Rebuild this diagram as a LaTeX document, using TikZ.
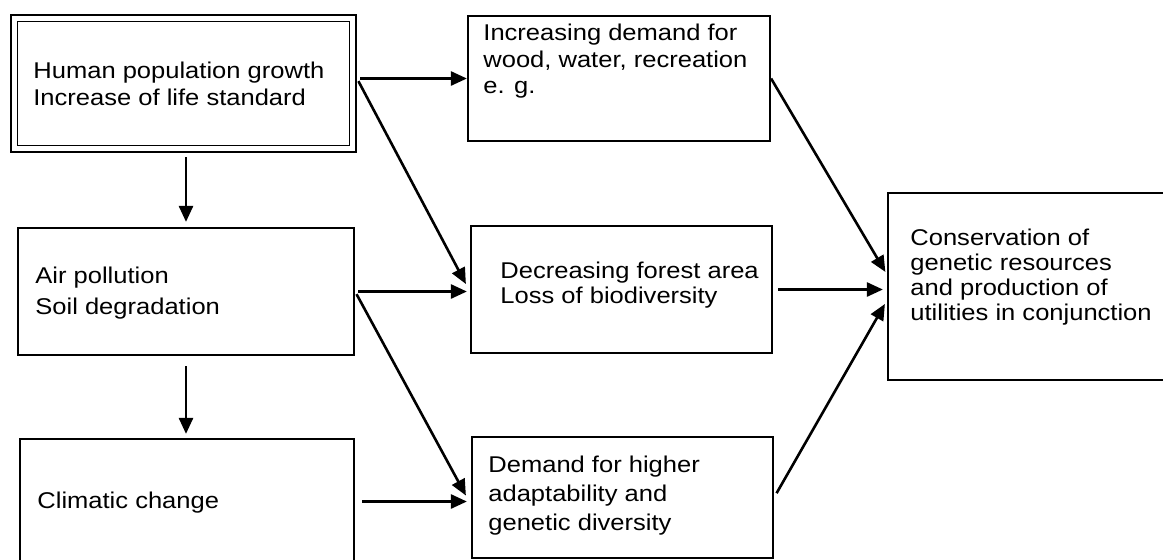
\documentclass[tikz,border=0pt]{standalone}
\usepackage{fontspec}
\setmainfont{Liberation Sans}[FakeStretch=1.12]
\usetikzlibrary{arrows.meta}

\tikzset{
  box/.style={draw, rectangle, line width=1.1pt, inner sep=0pt},
  lbl/.style={anchor=north west, inner sep=0pt, align=left, font=\fontsize{11.4}{#1}\selectfont},
  lbl/.default=13pt,
  arr/.style={-{Triangle[length=8pt, width=7pt]}, line width=1.3pt},
}

\begin{document}
\begin{tikzpicture}[x=0.5pt, y=-0.5pt]
		\useasboundingbox (0,0) rectangle (1163,559);

		% --- Boxes, left column ---
		\node[box, double, double distance=2.4pt, line width=0.9pt, outer sep=2.1pt,
		      minimum width=169.3pt, minimum height=65.3pt] (pop) at (183.5,83.5) {};
		\node[box, minimum width=168pt, minimum height=63.5pt] (air) at (186,291.5) {};
		\node[box, minimum width=167pt, minimum height=62.5pt] (clim) at (187,501.5) {};

		% --- Boxes, middle column ---
		\node[box, minimum width=151pt, minimum height=62.5pt] (dem) at (619,78.5) {};
		\node[box, minimum width=150.5pt, minimum height=63.5pt] (forest) at (621.5,289.5) {};
		\node[box, minimum width=150.5pt, minimum height=60.5pt] (adapt) at (622.5,497.5) {};

		% --- Box, right ---
		\node[box, minimum width=146pt, minimum height=93.5pt] (cons) at (1034,286.5) {};

		% --- Box texts ---
		\node[lbl=13.5pt] (pop txt) at (33,62) {Human population growth\\Increase of life standard};
		\node[lbl=15.5pt] (air txt) at (35,267) {Air pollution\\Soil degradation};
		\node[lbl] (clim txt) at (37,492) {Climatic change};
		\node[lbl=13.25pt] (dem txt) at (483,24) {Increasing demand for\\wood, water, recreation\\e. g.};
		\node[lbl=12.5pt] (forest txt) at (500,262) {Decreasing forest area\\Loss of biodiversity};
		\node[lbl=14.5pt] (adapt txt) at (488,456) {Demand for higher\\adaptability and\\genetic diversity};
		\node[lbl=12.5pt] (cons txt) at (910,229) {Conservation of\\genetic resources\\and production of\\utilities in conjunction};

		% --- Arrows down the left column ---
		\draw[arr, shorten <=2pt, shorten >=2.5pt] (pop.south -| air.north) -- (air.north);
		\draw[arr, shorten <=5pt, shorten >=2pt] (air.south) -- (air.south |- clim.north);

		% --- Arrows into the middle column ---
		\draw[arr, shorten <=1.5pt] (pop.east |- dem.west) -- (dem.west);
		\draw[arr, shorten <=1.5pt] (pop.east |- dem.west) -- ([shift={(-2pt,2.75pt)}]forest.west);
		\draw[arr, shorten <=1.5pt, shorten >=1.5pt] (air.east) -- (air.east -| forest.west);
		\draw[arr, shorten <=1.5pt] (air.east) -- ([shift={(-2.5pt,1pt)}]adapt.west);
		\draw[arr, shorten <=3.5pt, shorten >=2pt] (clim.east) -- (clim.east -| adapt.west);

		% --- Arrows into the right box ---
		\draw[arr, shorten >=1.5pt] (dem.east) -- ([yshift=6pt]cons.west);
		\draw[arr, shorten <=2.5pt, shorten >=2pt] (forest.east) -- (forest.east -| cons.west);
		\draw[arr, shorten <=2.5pt, shorten >=2pt] (adapt.east) -- ([yshift=-7pt]cons.west);
\end{tikzpicture}
\end{document}
